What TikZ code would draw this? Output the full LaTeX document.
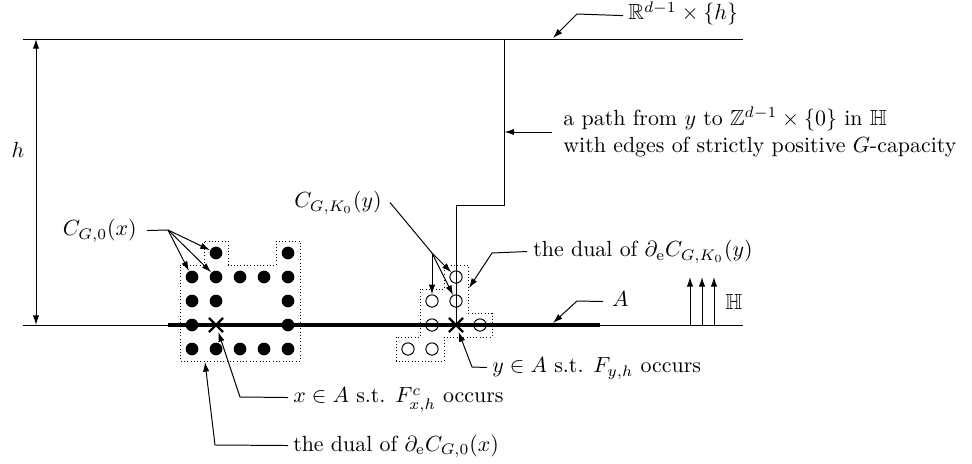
\documentclass[tikz,border=0pt]{standalone}
\usepackage{amsmath,amssymb}
\usetikzlibrary{arrows.meta,shapes.misc}
\begin{document}
\begin{tikzpicture}[x=0.4566pt,y=-0.4566pt,
  thinline/.style={line width=0.45pt},
  arr/.style={line width=0.45pt,-{Latex[length=4.4pt,width=2.9pt]}},
  dblarr/.style={line width=0.45pt,{Latex[length=4.4pt,width=2.9pt]}-{Latex[length=4.4pt,width=2.9pt]}},
  lead/.style={line width=0.45pt},
  fdot/.style={circle,fill=black,inner sep=0pt,minimum size=5.8pt},
  odot/.style={circle,draw=black,line width=0.45pt,inner sep=0pt,minimum size=5.6pt},
  xmark/.style={cross out,draw=black,line width=1.1pt,inner sep=0pt,minimum size=5.3pt},
  lbl/.style={inner ysep=0pt,inner xsep=2.2pt,text height=7.5pt,text depth=2.5pt},
  bnd/.style={line width=0.4pt,dash pattern=on 0.4pt off 1.1pt},
  thickA/.style={line width=2.1pt}
]
\useasboundingbox (0,0) rectangle (972,464);

% frame lines
\coordinate (TL) at (23,39);
\coordinate (TR) at (743,39);
\coordinate (BL) at (23,325);
\coordinate (BR) at (743,325);
\draw[thinline] (TL) -- (TR);
\draw[thinline] (BL) -- (BR);
\coordinate (hT) at (36,39);
\coordinate (hB) at (36,325);
\draw[dblarr] (hB) -- (hT);
\node[inner sep=0pt,anchor=base] (lh) at (18,158) {$h$};

% set A
\coordinate (A1) at (168,325);
\coordinate (A2) at (600,325);
\draw[thickA] (A1) -- (A2);

% dotted boundaries
\draw[bnd] (180,265) -- (204,265) -- (204,241) -- (228,241) -- (228,265) -- (276,265)
  -- (276,241) -- (300,241) -- (300,361) -- (180,361) -- cycle;
\draw[bnd] (444,265) -- (468,265) -- (468,313) -- (492,313) -- (492,337) -- (444,337)
  -- (444,361) -- (396,361) -- (396,337) -- (420,337) -- (420,289) -- (444,289) -- cycle;

% filled dots
\foreach \p/\q in {216/253,288/253,192/277,216/277,240/277,264/277,288/277,
  192/301,216/301,288/301,192/325,288/325,192/349,216/349,240/349,264/349,288/349}
  \node[fdot] (f\p-\q) at (\p,\q) {};

% open circles
\foreach \p/\q in {456/277,432/301,456/301,432/325,480/325,408/349,432/349}
  \node[odot] (o\p-\q) at (\p,\q) {};

% crosses
\node[xmark] (x) at (216,325) {};
\node[xmark] (y) at (456,325) {};

% path from y to the top
\coordinate (pT) at (504,39);
\coordinate (pB) at (456,205);
\draw[thinline] (pT) |- (pB) -- (y.center);

% H arrows
\foreach \i/\xx in {1/690,2/702,3/714}{
  \coordinate (hs\i) at (\xx,325);
  \coordinate (he\i) at (\xx,277);
  \draw[arr] (hs\i) -- (he\i);
}
\node[inner sep=0pt,anchor=base west] (lH) at (725,310) {$\mathbb{H}$};

% labels
\node[lbl,text height=6.5pt,anchor=base west] (lR) at (623,20) {$\mathbb{R}^{d-1}\times\{h\}$};
\coordinate (tR) at (553,38);
\draw[arr] (lR.west) -- (577,14) -- (tR);

\node[inner ysep=0pt,inner xsep=5pt,anchor=west,align=left] (lP) at (552,132)
  {a path from $y$ to $\mathbb{Z}^{d-1}\times\{0\}$ in $\mathbb{H}$\\
   with edges of strictly positive $G$-capacity};
\coordinate (tP) at (504.5,132);
\draw[arr] (lP.west) -- (tP);

\node[lbl,inner xsep=3.6pt,anchor=base east] (lK) at (390,208) {$C_{G,K_0}(y)$};
\coordinate (bK) at (432,253);
\draw[lead] (lK.east) -- (bK);
\draw[arr] (bK) -- (o432-301);
\draw[arr] (bK) -- (o456-277);
\draw[arr] (bK) -- (o456-301);

\node[lbl,inner xsep=4.5pt,anchor=base east] (lC) at (147,236) {$C_{G,0}(x)$};
\coordinate (bC) at (168,230);
\draw[lead] (lC.east) -- (bC);
\draw[arr] (bC) -- (f192-277);
\draw[arr] (bC) -- (f216-277);
\draw[arr] (bC) -- (f216-253);

\node[lbl,inner xsep=2.7pt,anchor=base west] (lDK) at (527,257)
  {the dual of $\partial_{\mathrm{e}}C_{G,K_0}(y)$};
\coordinate (tDK) at (469,288);
\draw[arr] (lDK.west) -- (492,253) -- (tDK);

\node[lbl,inner xsep=4pt,anchor=base west] (lA) at (603,307) {$A$};
\coordinate (tA) at (553,323);
\draw[arr] (lA.west) -- (577,301) -- (tA);

\node[lbl,anchor=base west] (lY) at (487,373) {$y\in A$ s.t. $F_{y,h}$ occurs};
\draw[arr] (lY.west) -- (472,367) -- (y);

\node[lbl,anchor=base west] (lX) at (288,403) {$x\in A$ s.t. $F^c_{x,h}$ occurs};
\draw[arr] (lX.west) -- (240,397) -- (x);

\node[lbl,anchor=base west] (lD0) at (288,451) {the dual of $\partial_{\mathrm{e}}C_{G,0}(x)$};
\coordinate (tD0) at (205,362);
\draw[arr] (lD0.west) -- (215,445) -- (tD0);
\end{tikzpicture}
\end{document}
